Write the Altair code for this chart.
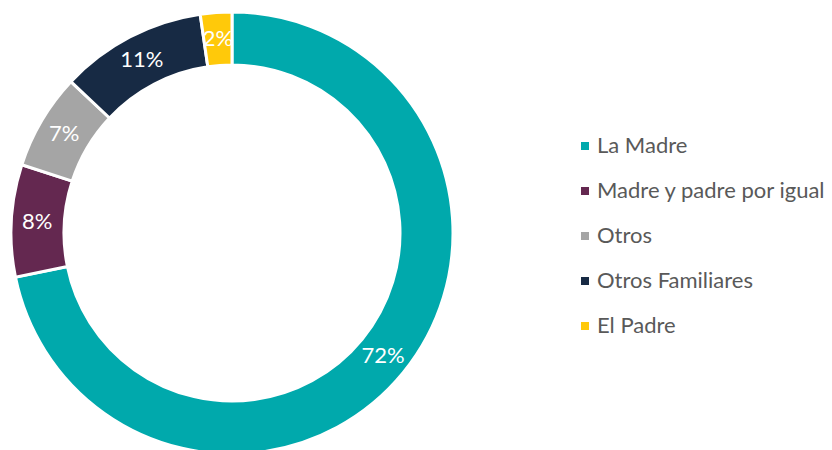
import altair as alt
import pandas as pd

categories = ["La Madre", "Madre y padre por igual", "Otros", "Otros Familiares", "El Padre"]
values = [71.8, 8.2, 7.0, 10.7, 2.3]
labels = ["72%", "8%", "7%", "11%", "2%"]
colors = ["#00A9AC", "#642850", "#A5A5A5", "#172A44", "#FFC90A"]

df = pd.DataFrame({
    "cat": categories,
    "val": values,
    "lab": labels,
    "ord": list(range(len(categories))),
})

CX, CY = 224, 225

base = alt.Chart(df).encode(
    theta=alt.Theta("val:Q", stack=True),
    order=alt.Order("ord:Q", sort="ascending"),
)

arcs = base.mark_arc(
    outerRadius=221, innerRadius=168, stroke="white", strokeWidth=3, x=CX, y=CY
).encode(
    color=alt.Color(
        "cat:N",
        scale=alt.Scale(domain=categories, range=colors),
        sort=categories,
        legend=alt.Legend(
            title=None,
            orient="none",
            legendX=566,
            legendY=127,
            symbolType="square",
            symbolSize=64,
            symbolStrokeWidth=0,
            labelFont="Lato",
            labelFontSize=22,
            labelColor="#595959",
            labelOffset=1,
            rowPadding=23,
            labelLimit=400,
        ),
    )
)

text = base.mark_text(
    radius=195, font="Lato", fontSize=22, color="white", x=CX, y=CY
).encode(text="lab:N")

chart = (
    alt.layer(arcs, text)
    .properties(width=816, height=442, autosize=alt.AutoSizeParams(type="none"), padding=0)
    .configure_view(stroke=None)
)

chart.save("out.html", embed_options={"renderer": "svg", "actions": False})
